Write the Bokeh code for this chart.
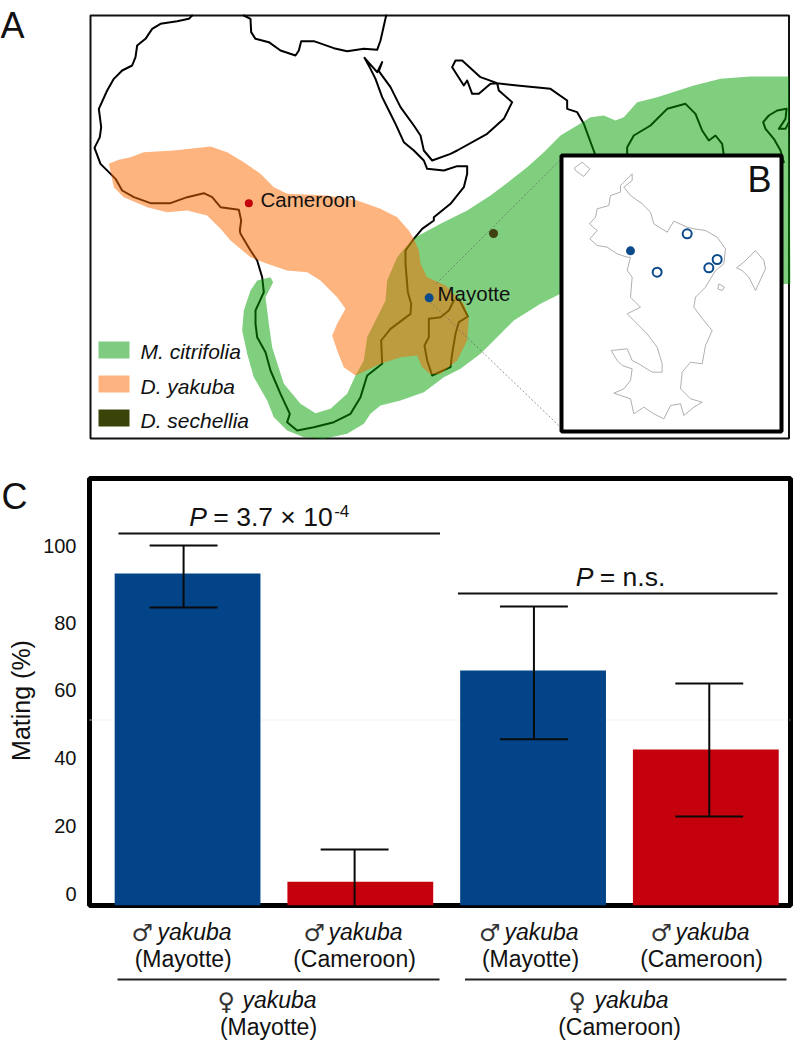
from math import pi
from bokeh.plotting import figure
from bokeh.layouts import column, row
from bokeh.models import Range1d, FixedTicker, Label, Span
from bokeh.embed import file_html
from bokeh.resources import INLINE

# ---------- bar data ----------
BAR_GROUPS = ["M/M", "M/C", "C/M", "C/C"]
BAR_POS = [1, 2, 3, 4]
MATING = [94.5, 3.5, 65.8, 42.5]
ERR_POS = [0.977, 1.967, 3.005, 4.02]
ERR_HI = [102.7, 13.0, 84.7, 62.0]
ERR_LO = [84.4, -6.0, 45.5, 22.7]
BAR_COLORS = ["#034488", "#C3000C", "#034488", "#C3000C"]
TICKS = [0, 20, 40, 60, 80, 102.5]
TICK_LABELS = {102.5: "100"}

# ---------- map tracings: (tile origin x, origin y), pairs at 3x ----------
T1 = (80, 0); T2 = (80, 220); T3 = (400, 60); T6 = (700, 60)
AFRICA_W = [(335,45),(325,55),(290,62),(240,70),(215,85),(195,115),(170,135),(165,170),(155,195),(125,210),(100,235),(80,270),(55,325),(62,380),(58,410),(42,442),(60,490),(85,515),(105,535),(125,570),(160,590),(210,608),(270,608),(320,590),(370,578),(395,590),(420,620),(475,628),(482,660),(478,690)]
AFRICA_S = [(480,40),(510,90),(530,120),(545,170),(550,215),(525,270),(525,310),(530,350),(555,395),(570,450),(600,520),(628,580),(620,605),(650,630),(700,620),(760,605),(810,580),(840,530),(860,465),(905,430),(902,360),(930,325),(990,280),(992,250),(982,215),(975,130),(975,90),(1000,55),(1025,25),(1060,0)]
AFRICA_E = [(1060,650),(1110,610),(1150,560),(1160,520),(1160,497),(1130,497),(1090,510),(1040,505),(1030,480),(1000,450),(970,425),(945,370),(925,330),(905,290),(885,235),(870,205),(852,172),(890,215),(905,185),(895,212),(930,260),(960,320),(1000,375),(1020,405),(1030,450),(1055,480),(1110,460)]
ARABIA = [(170,270),(260,220),(310,175),(335,125),(295,90),(290,68),(270,70),(235,100),(215,100),(200,60),(190,75),(155,20),(165,0),(185,0),(240,50),(290,68),(350,75),(450,85),(500,120),(500,145),(530,155),(550,190),(585,285)]
AFRICA_N = [(490,45),(510,55),(512,95),(525,115),(565,125),(600,150),(645,165),(655,150),(662,122),(700,122),(760,143),(800,152),(850,145),(890,148),(900,120),(917,45)]
MADAGASCAR = [(1120,240),(1105,270),(1080,290),(1045,295),(1045,350),(1032,375),(1040,420),(1055,465),(1110,440),(1115,400),(1125,340),(1135,305),(1162,288),(1140,245),(1135,235)]
INDIA = [(680,285),(680,260),(700,225),(750,195),(800,145),(855,130),(885,160),(905,210),(925,240),(945,225),(965,250),(970,285)]
ASIA_A = [(258,145),(230,150),(205,165),(188,185),(195,205),(220,235),(240,270),(250,305)]
ASIA_B = [(258,145),(255,175),(235,205),(255,205),(265,185)]

GREEN_UPPER = [(1165,48),(1050,48),(960,55),(880,75),(770,110),(710,125),(670,170),(645,180),(610,165),(570,170),(530,195),(480,225),(430,275),(380,320),(310,375),(270,405),(200,450),(120,490),(45,530)]
GREEN_INNER = [(1000,55),(975,80),(950,110),(920,180),(915,240),(890,290),(860,350),(850,420),(825,465),(800,520),(750,565),(705,578),(660,550),(610,490),(575,380),(565,310),(555,230),(578,185),(570,170),(530,180),(510,210),(490,270),(485,330),(500,400),(520,470),(560,540),(580,590),(620,630),(670,650),(730,655),(800,640),(850,610),(870,580),(900,555),(960,540)]
GREEN_LOWER = [(70,995),(130,950),(180,925),(240,880),(280,840),(340,780),(420,730),(480,700),(1170,670)]

ORANGE_TOP = [(85,490),(115,478),(150,470),(190,455),(280,450),(390,438),(440,455),(490,485),(540,520),(580,560),(620,580),(740,585),(830,600),(900,625),(950,650),(985,690)]
ORANGE_RIGHT = [(1000,55),(1015,90),(1020,130),(1040,170),(1095,195),(1150,250),(1165,290),(1160,360),(1130,420),(1080,460),(1050,462),(1025,440),(1010,405),(960,410),(900,430),(825,465),(790,440),(770,390),(755,345),(770,310),(795,265),(770,230),(720,180),(680,155),(620,150),(560,130),(510,110),(450,60),(420,25)]
ORANGE_LOW = [(380,645),(320,630),(260,635),(200,620),(130,590),(100,560)]

ISLAND_MAIN = [(695,340),(670,365),(660,375),(660,395),(630,405),(625,435),(590,445),(585,470),(567,490),(590,510),(568,535),(590,555),(620,560),(650,580),(680,590),(690,590),(680,630),(695,650),(690,710),(720,740),(680,760),(715,795),(740,820),(770,860),(785,910),(785,935),(755,935),(715,910),(695,900),(680,865),(632,870),(650,900),(665,915),(695,925),(690,960),(670,985),(640,998),(690,1015),(700,1060),(730,1040),(760,1060),(790,1075),(810,1035),(840,1030),(850,1065),(880,1040),(905,1025),(870,1015),(840,985),(845,935),(870,905),(905,910),(915,855),(935,810),(910,780),(880,740),(885,710),(915,680),(945,630),(970,610),(975,565),(950,530),(915,510),(880,505),(860,500),(820,482),(800,515),(760,490),(750,455),(725,430),(690,405),(670,380),(695,360),(695,340)]
ISLAND_NW = [(522,322),(545,305),(568,325),(550,348),(525,330),(522,322)]
ISLAND_E = [(1008,622),(1030,605),(1065,570),(1090,600),(1095,625),(1065,690),(1045,650),(1025,630),(1008,622)]
ISLAND_S = [(955,670),(972,680),(965,690),(952,685),(955,670)]
SITES_OPEN = [(860,520),(770,635),(925,622),(950,597)]
SITE_FILLED = [(690,571)]
SPECIES = ["M. citrifolia", "D. yakuba", "D. sechellia"]
SPECIES_COLORS = ["#7FCB81", "#FDB37F", "#3A4408"]


def px(points, tile):
    return [tile[0] + x / 3 for x, _ in points], [tile[1] + y / 3 for _, y in points]


def join(*parts):
    xs, ys = [], []
    for pts, tile in parts:
        a, b = px(pts, tile)
        xs += a
        ys += b
    return xs, ys


FONT = "Liberation Sans"
TEXT = "#111111"
LEFT, RIGHT = 88, 790
STRIP = 40
MID = 0.34  # baseline to middle, in ems


def size_of(s):
    return float(s.replace("px", ""))


def bare(width, height, xr, yr):
    f = figure(width=width, height=height, x_range=Range1d(*xr), y_range=Range1d(*yr),
               x_axis_type=None, y_axis_type=None, toolbar_location=None,
               output_backend="svg", min_border=0, outline_line_color=None, frame_align=False)
    f.grid.visible = False
    return f


# ================= map panel =================
m = bare(796, 455, (0, 796), (455, 0))

m.quad(left=[90], right=[788.5], top=[15], bottom=[438], fill_color=None,
       line_color="#111111", line_width=2)

for parts in [
    [(AFRICA_W, T1), (AFRICA_S, T2), (AFRICA_E, T1), (ARABIA, T3)],
    [(AFRICA_N, T1)], [(MADAGASCAR, T2)], [(INDIA, T3)],
    [(ASIA_A, T6)], [(ASIA_B, T6)],
]:
    xs, ys = join(*parts)
    m.line(xs, ys, line_color="black", line_width=2, line_join="round", line_cap="round")

gx, gy = join((GREEN_UPPER, T3), (GREEN_INNER, T2), (GREEN_LOWER, T3))
m.patch(gx, gy, fill_color="#00A000", fill_alpha=0.5, line_color=None)
ox, oy = join((ORANGE_TOP, T1), (ORANGE_RIGHT, T2), (ORANGE_LOW, T1))
m.patch(ox, oy, fill_color="#FB6A00", fill_alpha=0.5, line_color=None)

for a, b in [((478, 300), (105, 672)), ((90, 725), (480, 1100))]:
    xs, ys = px([a, b], T3)
    m.line(xs, ys, line_color="#666666", line_width=0.7, line_dash="2 2")

xs, ys = px([(86, 712)], T3)
m.scatter(xs, ys, size=9, fill_color="#0B4A8B", line_color=None)
xs, ys = px([(279, 519)], T3)
m.scatter(xs, ys, size=9, fill_color="#3F4110", line_color=None)
xs, ys = px([(505, 608)], T1)
m.scatter(xs, ys, size=8, fill_color="#C3000C", line_color=None)


def mlab(x, base, t, size="18px", style="normal", **kw):
    m.add_layout(Label(x=x, y=base - MID * size_of(size), text=t, text_font=FONT, text_font_size=size,
                       text_font_style=style, text_color=TEXT, text_baseline="middle", **kw))


mlab(260, 206, "Cameroon", size="20.5px")
mlab(437, 300, "Mayotte", size="20.5px")

# legend
for sp, col, top, base in zip(SPECIES, SPECIES_COLORS, [341, 375, 409], [358, 393, 427]):
    m.quad(left=[98], right=[129], top=[top], bottom=[top + 17], fill_color=col, line_color=None)
    mlab(140, base, sp, size="21px", style="italic")

# inset
m.quad(left=[561], right=[781], top=[155], bottom=[431], fill_color="white",
       line_color="black", line_width=4)
for isl in [ISLAND_MAIN, ISLAND_NW, ISLAND_E, ISLAND_S]:
    xs, ys = px(isl, T3)
    m.line(xs, ys, line_color="#9A9A9A", line_width=0.8)
xs, ys = px(SITES_OPEN, T3)
m.scatter(xs, ys, size=9, fill_color="white", line_color="#0B4A8B", line_width=2)
xs, ys = px(SITE_FILLED, T3)
m.scatter(xs, ys, size=9, fill_color="#0B4A8B", line_color=None)

mlab(0, 37, "A", size="36px")
mlab(747, 191, "B", size="36px")

# ================= left strip of the bar panel =================
s = bare(STRIP, 457, (0, STRIP), (912, 455))
s.add_layout(Label(x=1, y=508 - MID * 36, text="C", text_font=FONT, text_font_size="36px",
                   text_color=TEXT, text_baseline="middle"))
s.add_layout(Label(x=20, y=700, text="Mating (%)", text_font=FONT, text_font_size="25px",
                   text_color=TEXT, angle=pi / 2, text_align="center", text_baseline="middle"))

# ================= bar panel =================
X0, XS = 186.2, 173.0
Y0, YS = 893.0, 3.3875


def bx(p):
    return (p - X0) / XS + 1


def by(p):
    return (Y0 - p) / YS


b = figure(width=796 - STRIP, height=457, x_range=Range1d(bx(LEFT), bx(RIGHT)), y_range=Range1d(by(905), by(478)),
           x_axis_type=None, toolbar_location=None, output_backend="svg", frame_align=False,
           min_border_left=LEFT - STRIP - 1, min_border_right=796 - RIGHT, min_border_top=23, min_border_bottom=7,
           outline_line_color="black", outline_line_width=5)
b.grid.visible = False
ax = b.yaxis[0]
ax.ticker = FixedTicker(ticks=TICKS)
ax.major_label_overrides = TICK_LABELS
ax.major_tick_line_color = None
ax.minor_tick_line_color = None
ax.axis_line_color = None
ax.major_label_standoff = 7
ax.major_label_text_font = FONT
ax.major_label_text_font_size = "20px"
ax.major_label_text_color = TEXT

b.add_layout(Span(location=by(719.5), dimension="width", line_color="#E6E6E6", line_width=1,
                  line_dash="2 2", level="underlay"))
b.vbar(x=BAR_POS, top=MATING, bottom=by(905), width=146 / XS, fill_color=BAR_COLORS, line_color=None)
CAP = 34 / XS
b.segment(ERR_POS, ERR_LO, ERR_POS, ERR_HI, line_color="#0A0A0A", line_width=2)
b.segment([e - CAP for e in ERR_POS], ERR_HI, [e + CAP for e in ERR_POS], ERR_HI, line_color="#0A0A0A", line_width=2)
b.segment([e - CAP for e in ERR_POS], ERR_LO, [e + CAP for e in ERR_POS], ERR_LO, line_color="#0A0A0A", line_width=2)

b.segment([bx(117), bx(457)], [by(533), by(593)], [bx(439), bx(777)], [by(533), by(593)],
          line_color="#111111", line_width=2)


def blab(x, base, t, size="26.5px", style="normal", **kw):
    b.add_layout(Label(x=bx(x), y=by(base - MID * size_of(size)), text=t, text_font=FONT, text_font_size=size,
                       text_font_style=style, text_color=TEXT, text_baseline="middle", **kw))


blab(188, 526, "P", style="italic")
blab(212, 526, "= 3.7 × 10")
blab(333, 516, "-4", size="17px")
blab(575, 586, "P", style="italic")
blab(599, 586, "= n.s.")

# ================= group labels =================
n = bare(796, 128, (0, 796), (1040, 912))

MALE_ROWS = ["(Mayotte)", "(Cameroon)", "(Mayotte)", "(Cameroon)"]
FEMALE_ROWS = ["(Mayotte)", "(Cameroon)"]


def nlab(x, base, t, style="normal", font=FONT, size="23px", align="left", color=TEXT):
    n.add_layout(Label(x=x, y=base - MID * size_of(size), text=t, text_font=font, text_font_size=size,
                       text_font_style=style, text_color=color, text_baseline="middle", text_align=align))


for sx, nx, cx, t in zip([131, 303, 478.6, 650], [157, 328, 504, 675], [182.7, 354, 530, 701], MALE_ROWS):
    nlab(sx, 941, "♂", font="DejaVu Sans", size="24px", color="#333333")
    nlab(nx, 939, "yakuba", style="italic")
    nlab(cx, 966, t, align="center")
for sx, nx, cx, t in zip([217, 568], [242, 594], [268, 619], FEMALE_ROWS):
    nlab(sx, 1010, "♀", font="DejaVu Sans", size="24px", color="#333333")
    nlab(nx, 1007.5, "yakuba", style="italic")
    nlab(cx, 1034, t, align="center")
n.segment([117, 464.5], [979, 979], [439, 786], [979, 979], line_color="#222222", line_width=2)

page = column(m, row(s, b, spacing=0), n, spacing=0)
open("out.html", "w").write(file_html(page, INLINE))
